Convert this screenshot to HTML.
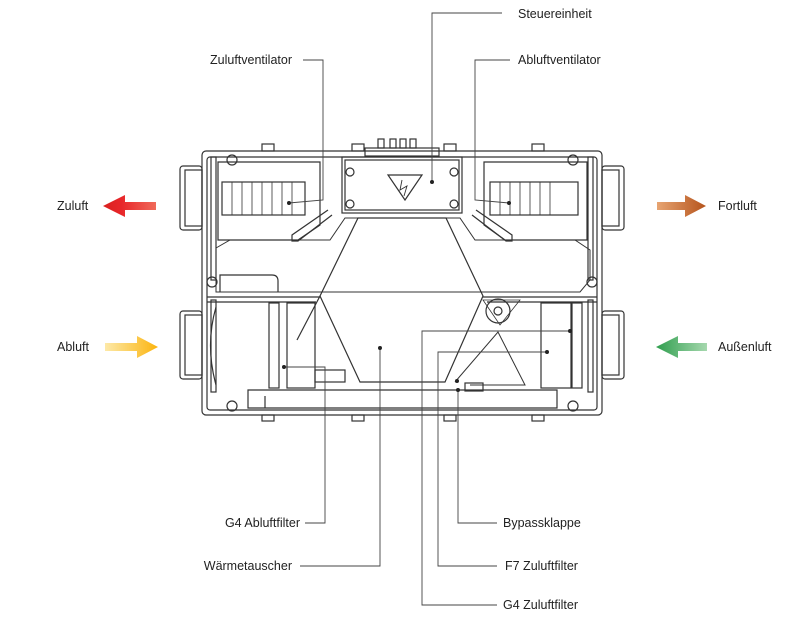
<!DOCTYPE html>
<html><head><meta charset="utf-8"><style>
html,body{margin:0;padding:0;background:#fff;width:799px;height:622px;overflow:hidden}
svg{display:block}
text{font-family:"Liberation Sans",sans-serif;font-size:12.5px;fill:#222}
</style></head><body>
<svg width="799" height="622" viewBox="0 0 799 622">
<defs>
<linearGradient id="gr" x1="0" x2="1"><stop offset="0" stop-color="#d9201e"/><stop offset="0.35" stop-color="#e8262a"/><stop offset="1" stop-color="#f06a5a"/></linearGradient>
<linearGradient id="gy" x1="0" x2="1"><stop offset="0" stop-color="#fde9a8"/><stop offset="1" stop-color="#fbb40e"/></linearGradient>
<linearGradient id="go" x1="0" x2="1"><stop offset="0" stop-color="#e7a472"/><stop offset="1" stop-color="#b5541c"/></linearGradient>
<linearGradient id="gg" x1="0" x2="1"><stop offset="0" stop-color="#2f9e4e"/><stop offset="1" stop-color="#a6d8ae"/></linearGradient>
</defs>
<polygon points="103,206 125,195 125,202 156,202 156,210 125,210 125,217" fill="url(#gr)"/>
<polygon points="105,343 137,343 137,336 158,347 137,358 137,351 105,351" fill="url(#gy)"/>
<polygon points="657,202 685,202 685,195 706,206 685,217 685,210 657,210" fill="url(#go)"/>
<polygon points="656,347 678,336 678,343 707,343 707,351 678,351 678,358" fill="url(#gg)"/>
<text x="57" y="210">Zuluft</text>
<text x="57" y="351">Abluft</text>
<text x="718" y="210">Fortluft</text>
<text x="718" y="351">Außenluft</text>
<g fill="none" stroke="#333" stroke-width="1.2">
<rect x="202" y="151" width="400" height="264" rx="4"/>
<rect x="207" y="157" width="390" height="253" rx="3"/>
<rect x="180" y="166" width="22" height="64" rx="3"/><rect x="185" y="170" width="17" height="56"/>
<rect x="180" y="311" width="22" height="68" rx="3"/><rect x="185" y="315" width="17" height="60"/>
<rect x="602" y="166" width="22" height="64" rx="3"/><rect x="602" y="170" width="17" height="56"/>
<rect x="602" y="311" width="22" height="68" rx="3"/><rect x="602" y="315" width="17" height="60"/>
<rect x="211" y="157" width="5" height="123"/><rect x="588" y="157" width="5" height="123"/>
<rect x="211" y="300" width="5" height="92"/><rect x="588" y="300" width="5" height="92"/>
<line x1="207" y1="297" x2="320" y2="297"/><line x1="483" y1="297" x2="597" y2="297"/>
<line x1="207" y1="302" x2="316" y2="302"/><line x1="487" y1="302" x2="597" y2="302"/>
<path d="M218,162 H320 V225 L298,240 H218 Z"/>
<path d="M484,162 H587 V240 H505 L484,225 Z"/>
<path d="M216,248 L230,240 H330 L345,218 H460 L475,240 H575 L590,250 V280 L580,292 H216 Z" stroke-width="1"/>
<rect x="222" y="182" width="83" height="33"/><rect x="490" y="182" width="88" height="33"/>
<g stroke-width="0.8">
<line x1="232" y1="182" x2="232" y2="215"/><line x1="242" y1="182" x2="242" y2="215"/><line x1="252" y1="182" x2="252" y2="215"/><line x1="262" y1="182" x2="262" y2="215"/><line x1="272" y1="182" x2="272" y2="215"/><line x1="282" y1="182" x2="282" y2="215"/><line x1="292" y1="182" x2="292" y2="215"/>
<line x1="500" y1="182" x2="500" y2="215"/><line x1="510" y1="182" x2="510" y2="215"/><line x1="520" y1="182" x2="520" y2="215"/><line x1="530" y1="182" x2="530" y2="215"/><line x1="540" y1="182" x2="540" y2="215"/><line x1="550" y1="182" x2="550" y2="215"/></g>
<path d="M328,210 L292,235 V241 H298 L332,215"/><path d="M476,210 L512,235 V241 H506 L472,215"/>
<rect x="342" y="157" width="120" height="56"/><rect x="345" y="160" width="114" height="50"/>
<path d="M388,175 H422 L405,200 Z"/><path d="M402,180 L400,190 L407,186 L404,196" stroke-width="0.9"/>
<rect x="378" y="139" width="6" height="9"/><rect x="390" y="139" width="6" height="9"/><rect x="400" y="139" width="6" height="9"/><rect x="410" y="139" width="6" height="9"/>
<rect x="365" y="148" width="74" height="8"/>
<path d="M358,218 H446 L483,296 L445,382 H360 L320,296 Z"/>
<path d="M320,296 L297,340"/>
<path d="M216,307 Q205,345 216,385"/>
<rect x="269" y="303" width="10" height="85"/><rect x="287" y="303" width="28" height="85"/>
<rect x="315" y="370" width="30" height="12"/>
<rect x="541" y="303" width="30" height="85"/><rect x="572" y="303" width="10" height="85"/>
<circle cx="498" cy="311" r="12"/><circle cx="498" cy="311" r="4"/>
<path d="M483,300 L520,300 L500,325 Z" stroke-width="0.8"/>
<path d="M455,382 L498,332 L525,385 H470" stroke-width="1"/>
<path d="M248,390 H557 V408 H248 Z"/>
<line x1="265" y1="396" x2="265" y2="408"/>
<rect x="465" y="383" width="18" height="8"/>
<circle cx="232" cy="160" r="5"/><circle cx="573" cy="160" r="5"/><circle cx="212" cy="282" r="5"/><circle cx="592" cy="282" r="5"/>
<circle cx="232" cy="406" r="5"/><circle cx="573" cy="406" r="5"/>
<circle cx="350" cy="172" r="4"/><circle cx="454" cy="172" r="4"/><circle cx="350" cy="204" r="4"/><circle cx="454" cy="204" r="4"/>
<rect x="262" y="144" width="12" height="7"/><rect x="352" y="144" width="12" height="7"/><rect x="444" y="144" width="12" height="7"/><rect x="532" y="144" width="12" height="7"/>
<rect x="262" y="415" width="12" height="6"/><rect x="352" y="415" width="12" height="6"/><rect x="444" y="415" width="12" height="6"/><rect x="532" y="415" width="12" height="6"/>
<path d="M220,292 V275 H272 Q278,275 278,281 V292"/>
</g>
<g fill="none" stroke="#444" stroke-width="0.9">
<polyline points="432,182 432,13 502,13"/>
<polyline points="303,60 323,60 323,200 289,203"/>
<polyline points="510,60 475,60 475,200 509,203"/>
<polyline points="284,367 325,367 325,523 305,523"/>
<polyline points="380,348 380,566 300,566"/>
<polyline points="458,390 458,523 497,523"/>
<polyline points="547,352 438,352 438,566 497,566"/>
<polyline points="570,331 422,331 422,605 497,605"/>
</g>
<g fill="#222">
<circle cx="432" cy="182" r="2"/><circle cx="289" cy="203" r="2"/><circle cx="509" cy="203" r="2"/><circle cx="284" cy="367" r="2"/><circle cx="380" cy="348" r="2"/><circle cx="458" cy="390" r="2"/><circle cx="547" cy="352" r="2"/><circle cx="570" cy="331" r="2"/><circle cx="457" cy="381" r="2"/>
</g>
<text x="518" y="18">Steuereinheit</text>
<text x="292" y="64" text-anchor="end">Zuluftventilator</text>
<text x="518" y="64">Abluftventilator</text>
<text x="300" y="527" text-anchor="end">G4 Abluftfilter</text>
<text x="292" y="570" text-anchor="end">Wärmetauscher</text>
<text x="503" y="527">Bypassklappe</text>
<text x="505" y="570">F7 Zuluftfilter</text>
<text x="503" y="609">G4 Zuluftfilter</text>
</svg>
</body></html>
